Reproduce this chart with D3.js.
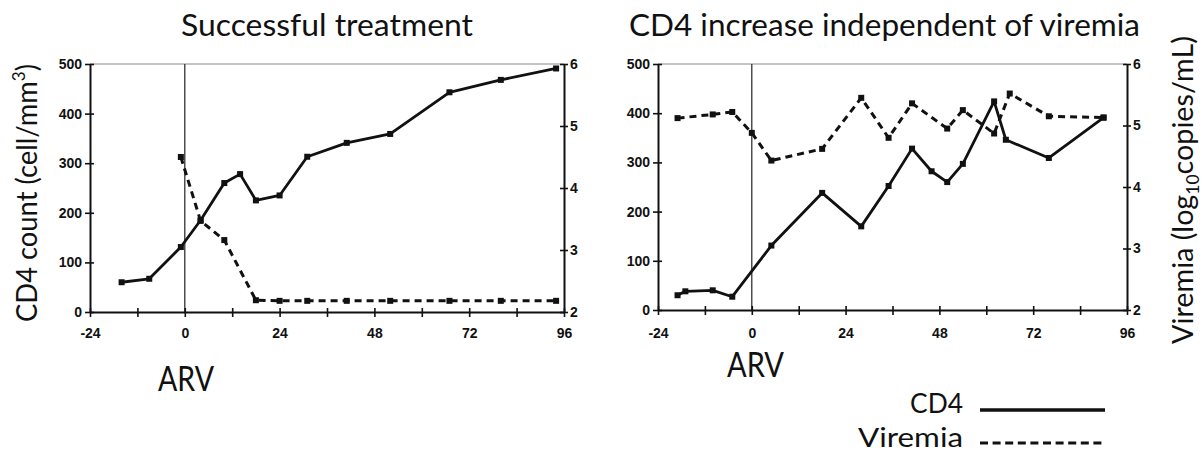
<!DOCTYPE html>
<html><head><meta charset="utf-8">
<script src="https://cdn.jsdelivr.net/npm/d3@7"></script>
<style>body{margin:0;background:#fff;} svg{display:block;}</style>
</head><body><svg id="c" width="1204" height="454"></svg>
<script>
// ---------- data ----------
const xTicks = [-24, -12, 0, 12, 24, 36, 48, 60, 72, 84, 96];
const xLabelEvery = 24;
const cd4Ticks = [0, 100, 200, 300, 400, 500];
const virTicks = [2, 3, 4, 5, 6];

const titles = ["Successful treatment", "CD4 increase independent of viremia"];

// Panel 1: Successful treatment
const weeksCD4_1 = [-16, -9, -1, 4, 10, 14, 18, 24, 31, 41, 52, 67, 80, 94];
const cd4_1      = [60, 67, 131, 185, 260, 278, 225, 235, 313, 341, 359, 443, 468, 491];
const weeksVir_1 = [-1, 4, 10, 18, 24, 31, 41, 52, 67, 80, 94];
const vir_1      = [4.5, 3.47, 3.16, 2.19, 2.18, 2.18, 2.18, 2.18, 2.18, 2.18, 2.18];

// Panel 2: CD4 increase independent of viremia
const weeksCD4_2 = [-19, -17, -10, -5, 5, 18, 28, 35, 41, 46, 50, 54, 62, 65, 76, 90];
const cd4_2      = [30, 38, 40, 27, 131, 238, 170, 252, 328, 282, 260, 297, 424, 346, 309, 391];
const weeksVir_2 = [-19, -10, -5, 0, 5, 18, 28, 35, 41, 50, 54, 62, 66, 76, 90];
const vir_2      = [5.12, 5.18, 5.22, 4.88, 4.43, 4.62, 5.45, 4.8, 5.36, 4.95, 5.25, 4.87, 5.52, 5.15, 5.13];

const legendLabels = ["CD4", "Viremia"];

// ---------- drawing ----------
const svg = d3.select("#c");
const FONT = "Lato, 'Open Sans', sans-serif";
const TICKFONT = "'Liberation Sans', Arial, sans-serif";

function fitText(txt, len) {
  const w = txt.node().getBBox().width;
  if (w > 0) txt.attr("transform", `scale(${len / w},1)`);
}

function panel(box, weeksC, cd4, weeksV, vir) {
  const x = d3.scaleLinear().domain([-24, 96]).range([box.x0, box.x1]);
  const y = d3.scaleLinear().domain([0, 500]).range([box.yb, box.yt]);
  const yv = d3.scaleLinear().domain([2, 6]).range([box.yb, box.yt]);
  const g = svg.append("g");

  // top frame line
  g.append("line").attr("x1", box.x0).attr("x2", box.x1).attr("y1", box.yt).attr("y2", box.yt)
    .attr("stroke", "#8a8a8a").attr("stroke-width", 1);
  // ARV start line
  g.append("line").attr("x1", x(0)).attr("x2", x(0)).attr("y1", box.yt).attr("y2", box.yb)
    .attr("stroke", "#222").attr("stroke-width", 1.2);

  // axes
  const ax = g.append("g").attr("transform", `translate(0,${box.yb})`)
    .call(d3.axisBottom(x).tickValues(xTicks).tickFormat(d => d % xLabelEvery === 0 ? d : "")
      .tickSize(5).tickSizeOuter(0).tickPadding(box.xpad));
  ax.selectAll(".tick line").attr("y1", -4).attr("y2", 5);

  const ay = g.append("g").attr("transform", `translate(${box.x0},0)`)
    .call(d3.axisLeft(y).tickValues(cd4Ticks).tickSize(5).tickSizeOuter(0).tickPadding(3));
  ay.selectAll(".tick line").attr("x1", 4).attr("x2", -5);

  const ar = g.append("g").attr("transform", `translate(${box.x1},0)`)
    .call(d3.axisRight(yv).tickValues(virTicks).tickFormat(d3.format("d"))
      .tickSize(4).tickSizeOuter(0).tickPadding(2));
  ar.selectAll(".tick line").attr("x1", -4).attr("x2", 4);

  [ax, ay, ar].forEach(a => {
    a.select(".domain").attr("stroke", "#111").attr("stroke-width", 2);
    a.selectAll(".tick line").attr("stroke", "#111").attr("stroke-width", 1.6);
    a.selectAll("text").attr("font-family", TICKFONT).attr("font-weight", "bold")
      .attr("font-size", 14).attr("fill", "#111");
  });

  // viremia dashed
  const lineV = d3.line().x((d, i) => x(weeksV[i])).y(d => yv(d));
  g.append("path").datum(vir).attr("d", lineV).attr("fill", "none")
    .attr("stroke", "#111").attr("stroke-width", 3).attr("stroke-dasharray", "7,5");
  g.selectAll(".mv").data(vir).enter().append("rect")
    .attr("x", (d, i) => x(weeksV[i]) - 3).attr("y", d => yv(d) - 3)
    .attr("width", 6).attr("height", 6).attr("fill", "#111");

  // CD4 solid
  const lineC = d3.line().x((d, i) => x(weeksC[i])).y(d => y(d));
  g.append("path").datum(cd4).attr("d", lineC).attr("fill", "none")
    .attr("stroke", "#111").attr("stroke-width", 2.8).attr("stroke-linejoin", "round");
  g.selectAll(".mc").data(cd4).enter().append("rect")
    .attr("x", (d, i) => x(weeksC[i]) - 3).attr("y", d => y(d) - 3)
    .attr("width", 6).attr("height", 6).attr("fill", "#111");
}

function label(x, y, rot, anchor, size, len, build) {
  const g = svg.append("g").attr("transform", `translate(${x},${y}) rotate(${rot})`);
  const t = g.append("text").attr("x", 0).attr("y", 0).attr("text-anchor", anchor)
    .attr("font-family", FONT).attr("font-size", size).attr("fill", "#111");
  build(t);
  fitText(t, len);
  return t;
}

function draw() {
  panel({x0: 90, x1: 564, yb: 312, yt: 64, xpad: 11}, weeksCD4_1, cd4_1, weeksVir_1, vir_1);
  panel({x0: 658, x1: 1127, yb: 310, yt: 64, xpad: 13}, weeksCD4_2, cd4_2, weeksVir_2, vir_2);

  label(181, 36, 0, "start", 31, 292, t => t.text(titles[0]));
  label(629, 36, 0, "start", 31, 511, t => t.text(titles[1]));

  label(37, 193, -90, "middle", 29, 258, t => {
    t.append("tspan").text("CD4 count (cell/mm");
    t.append("tspan").attr("font-size", 18).attr("dy", -12).text("3");
    t.append("tspan").attr("dy", 12).text(")");
  });
  label(1193, 190, -90, "middle", 28, 308, t => {
    t.append("tspan").text("Viremia (log");
    t.append("tspan").attr("font-size", 17).attr("dy", 6).text("10");
    t.append("tspan").attr("dy", -6).text("copies/mL)");
  });

  label(158, 391, 0, "start", 34, 56, t => t.text("ARV"));
  label(727, 377, 0, "start", 34, 57, t => t.text("ARV"));

  // legend
  label(963, 413, 0, "end", 26, 53, t => t.text(legendLabels[0]));
  label(963, 447, 0, "end", 26, 105, t => t.text(legendLabels[1]));
  svg.append("line").attr("x1", 980).attr("x2", 1105).attr("y1", 410).attr("y2", 410)
    .attr("stroke", "#111").attr("stroke-width", 3.5);
  svg.append("line").attr("x1", 980).attr("x2", 1105).attr("y1", 443).attr("y2", 443)
    .attr("stroke", "#111").attr("stroke-width", 3.2).attr("stroke-dasharray", "8,4.6");
}

if (document.fonts && document.fonts.ready) document.fonts.ready.then(draw); else draw();
</script>
</body></html>
